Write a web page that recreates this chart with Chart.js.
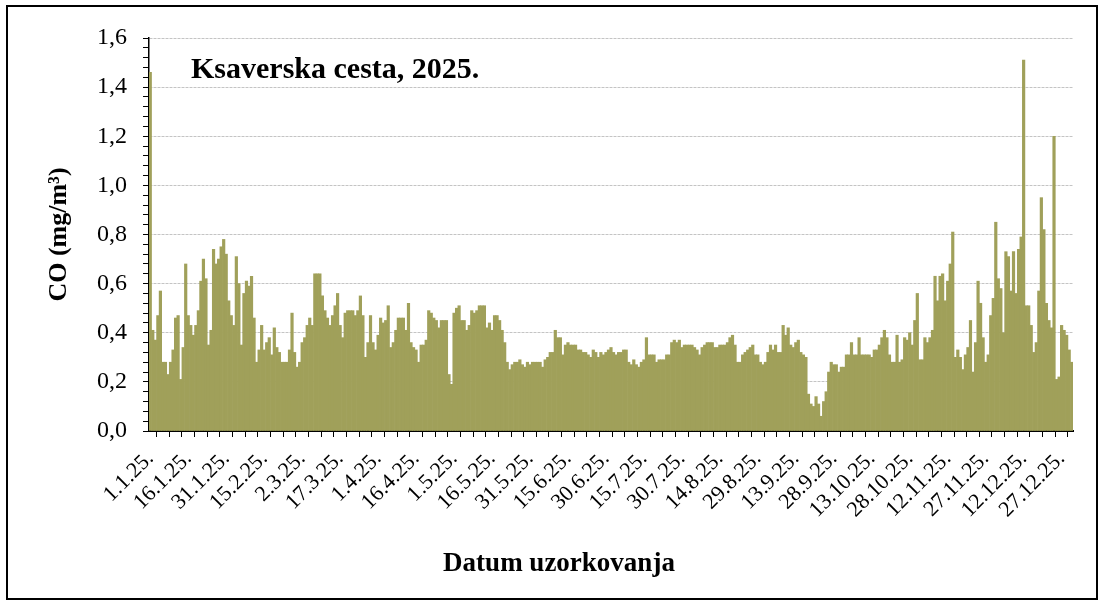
<!DOCTYPE html>
<html>
<head>
<meta charset="utf-8">
<script src="https://cdn.jsdelivr.net/npm/chart.js@4"></script>
<style>
  html, body { margin: 0; padding: 0; background: #fff; }
  #wrap { position: relative; width: 1104px; height: 603px; }
  #frame { position: absolute; left: 6px; top: 5px; width: 1092px; height: 595px; border: 2px solid #000; box-sizing: border-box; }
  #coChart { position: absolute; left: 0; top: 0; }
</style>
</head>
<body>
<div id="wrap">
  <div id="frame"></div>
  <canvas id="coChart" width="1104" height="603"></canvas>
</div>
<script>
// daily CO, Ksaverska cesta 2025 (mg/m3), one array per month
const jan = [1.46, 0.41, 0.37, 0.47, 0.57, 0.28, 0.28, 0.23, 0.28, 0.33, 0.46, 0.47, 0.21, 0.34, 0.68, 0.47, 0.43, 0.39, 0.43, 0.49, 0.61, 0.70, 0.62, 0.35, 0.41, 0.74, 0.68, 0.70, 0.75, 0.78, 0.72];
const feb = [0.53, 0.47, 0.43, 0.71, 0.60, 0.35, 0.56, 0.61, 0.59, 0.63, 0.46, 0.28, 0.33, 0.43, 0.33, 0.36, 0.38, 0.31, 0.42, 0.34, 0.32, 0.28, 0.28, 0.28, 0.33, 0.48, 0.32, 0.26];
const mar = [0.28, 0.36, 0.38, 0.43, 0.46, 0.43, 0.64, 0.64, 0.64, 0.55, 0.49, 0.46, 0.43, 0.47, 0.51, 0.56, 0.43, 0.38, 0.48, 0.49, 0.49, 0.49, 0.47, 0.49, 0.55, 0.47, 0.30, 0.36, 0.47, 0.36, 0.33];
const apr = [0.39, 0.46, 0.44, 0.45, 0.51, 0.34, 0.36, 0.41, 0.46, 0.46, 0.46, 0.41, 0.52, 0.36, 0.34, 0.33, 0.28, 0.35, 0.35, 0.37, 0.49, 0.48, 0.46, 0.45, 0.42, 0.45, 0.45, 0.45, 0.23, 0.19];
const may = [0.48, 0.50, 0.51, 0.45, 0.45, 0.41, 0.43, 0.49, 0.48, 0.49, 0.51, 0.51, 0.51, 0.42, 0.44, 0.41, 0.47, 0.47, 0.45, 0.41, 0.36, 0.28, 0.25, 0.27, 0.28, 0.28, 0.29, 0.27, 0.26, 0.28, 0.27];
const jun = [0.28, 0.28, 0.28, 0.28, 0.26, 0.29, 0.30, 0.32, 0.32, 0.41, 0.38, 0.38, 0.31, 0.35, 0.36, 0.35, 0.35, 0.35, 0.33, 0.33, 0.32, 0.32, 0.31, 0.30, 0.33, 0.32, 0.30, 0.32, 0.31, 0.32];
const jul = [0.33, 0.34, 0.32, 0.31, 0.32, 0.32, 0.33, 0.33, 0.28, 0.27, 0.29, 0.27, 0.26, 0.28, 0.29, 0.38, 0.31, 0.31, 0.31, 0.28, 0.29, 0.29, 0.29, 0.31, 0.31, 0.36, 0.37, 0.36, 0.37, 0.34, 0.35];
const aug = [0.35, 0.35, 0.35, 0.34, 0.33, 0.31, 0.34, 0.35, 0.36, 0.36, 0.36, 0.34, 0.34, 0.35, 0.35, 0.35, 0.36, 0.38, 0.39, 0.35, 0.28, 0.28, 0.31, 0.32, 0.33, 0.34, 0.35, 0.31, 0.31, 0.28, 0.27];
const sep = [0.28, 0.32, 0.35, 0.33, 0.35, 0.32, 0.32, 0.43, 0.39, 0.42, 0.35, 0.34, 0.36, 0.37, 0.32, 0.31, 0.30, 0.15, 0.11, 0.10, 0.14, 0.11, 0.06, 0.12, 0.16, 0.24, 0.28, 0.27, 0.27, 0.24];
const oct = [0.26, 0.26, 0.31, 0.31, 0.36, 0.31, 0.31, 0.38, 0.31, 0.31, 0.31, 0.31, 0.30, 0.33, 0.33, 0.35, 0.38, 0.41, 0.38, 0.31, 0.28, 0.28, 0.39, 0.28, 0.29, 0.38, 0.37, 0.40, 0.35, 0.45, 0.56];
const nov = [0.29, 0.29, 0.38, 0.36, 0.38, 0.41, 0.63, 0.53, 0.63, 0.64, 0.53, 0.61, 0.68, 0.81, 0.30, 0.33, 0.30, 0.25, 0.31, 0.34, 0.45, 0.24, 0.36, 0.61, 0.52, 0.38, 0.28, 0.31, 0.47, 0.54];
const dec = [0.85, 0.62, 0.58, 0.40, 0.73, 0.71, 0.57, 0.73, 0.56, 0.74, 0.79, 1.51, 0.51, 0.51, 0.43, 0.32, 0.36, 0.57, 0.95, 0.82, 0.52, 0.45, 0.42, 1.20, 0.21, 0.22, 0.43, 0.41, 0.39, 0.33, 0.28];

const months = [jan, feb, mar, apr, may, jun, jul, aug, sep, oct, nov, dec];

// labels shown on the date axis (every 15th day)
const tickLabels = ["1.1.25.", "16.1.25.", "31.1.25.", "15.2.25.", "2.3.25.", "17.3.25.", "1.4.25.", "16.4.25.",
  "1.5.25.", "16.5.25.", "31.5.25.", "15.6.25.", "30.6.25.", "15.7.25.", "30.7.25.", "14.8.25.", "29.8.25.",
  "13.9.25.", "28.9.25.", "13.10.25.", "28.10.25.", "12.11.25.", "27.11.25.", "12.12.25.", "27.12.25."];

const yTicks = ["0,0", "0,2", "0,4", "0,6", "0,8", "1,0", "1,2", "1,4", "1,6"];

const chartTitle = "Ksaverska cesta, 2025.";
const yTitle = "CO (mg/m³)";
const xTitle = "Datum uzorkovanja";

// one category per sampling day
const days = [];
const values = [];
months.forEach((m, mi) => {
  m.forEach((v, di) => {
    days.push((di + 1) + "." + (mi + 1) + ".25.");
    values.push(v);
  });
});

const serif = "'Liberation Serif', 'Times New Roman', serif";

const isMajor = v => Math.abs(v * 5 - Math.round(v * 5)) < 1e-6;

// chart title inside the plot and the x axis title (off-centre in the original)
const overlayTitles = {
  id: "overlayTitles",
  afterDraw(chart) {
    const c = chart.ctx;
    c.save();
    c.fillStyle = "#000";
    c.textBaseline = "alphabetic";
    c.font = "bold 30px " + serif;
    c.textAlign = "left";
    c.fillText(chartTitle, 191, 78);
    c.font = "bold 27px " + serif;
    c.textAlign = "center";
    c.fillText(xTitle, 559, 571);
    c.restore();
  }
};

new Chart(document.getElementById("coChart"), {
  type: "bar",
  data: {
    labels: days,
    datasets: [{
      data: values,
      backgroundColor: "#a0a05a",
      borderWidth: 0,
      barPercentage: 1,
      categoryPercentage: 1
    }]
  },
  options: {
    responsive: false,
    animation: false,
    layout: { padding: { left: 0, right: 31, top: 38, bottom: 0 } },
    plugins: {
      legend: { display: false },
      tooltip: { enabled: false }
    },
    scales: {
      x: {
        afterFit: s => { s.height = 172; },
        grid: {
          drawOnChartArea: false,
          color: "#000",
          tickColor: "#000",
          tickLength: 6,
          tickWidth: 1
        },
        border: { color: "#000", width: 2 },
        ticks: {
          autoSkip: false,
          maxRotation: 45,
          minRotation: 45,
          padding: 9,
          color: "#000",
          font: { family: serif, size: 22 },
          callback: (v, i) => i % 15 === 0 ? tickLabels[i / 15] : (i % 5 === 0 ? "" : null)
        }
      },
      y: {
        min: 0,
        max: 1.6,
        afterFit: s => { s.width = 149; },
        grid: {
          color: ctx => (ctx.tick && isMajor(ctx.tick.value)) ? "#c4c4c4" : "rgba(0,0,0,0)",
          tickColor: "#000",
          tickLength: 6,
          lineWidth: 1
        },
        border: { color: "#000", width: 1.5, dash: [3, 1] },
        ticks: {
          stepSize: 0.04,
          autoSkip: false,
          padding: 16,
          color: "#000",
          font: { family: serif, size: 24 },
          callback: v => isMajor(v) ? yTicks[Math.round(v * 5)] : ""
        },
        title: {
          display: true,
          text: yTitle,
          color: "#000",
          font: { family: serif, size: 26, weight: "bold" },
          padding: { top: 44, bottom: 0 }
        }
      }
    }
  },
  plugins: [overlayTitles]
});
</script>
</body>
</html>
